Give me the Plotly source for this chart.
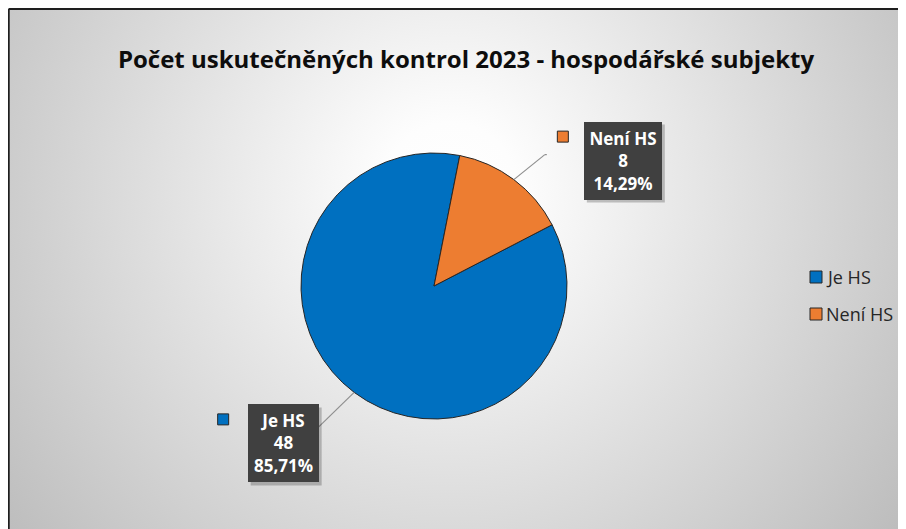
import math
import base64
import plotly.graph_objects as go

# ---------------- data ----------------
labels = ["Je HS", "Není HS"]
values = [48, 8]
colors = ["#0070C0", "#ED7D31"]
title_text = "Počet uskutečněných kontrol 2023 - hospodářské subjekty"

# ---------------- layout constants (screen pixels) ----------------
OFF = 8                      # page body margin of the browser
W, H = 906 - OFF, 529 - OFF  # figure size
CX, CY, R = 434, 286, 133
ROT = 62.6
FONT = "Open Sans"

def px(x):
    return (x - OFF) / W

def py(y):
    return 1 - (y - OFF) / H

fig = go.Figure(
    go.Pie(
        labels=labels,
        values=values,
        sort=False,
        direction="clockwise",
        rotation=ROT,
        marker=dict(colors=colors, line=dict(color="#262626", width=1)),
        textinfo="none",
        hoverinfo="label+value+percent",
        domain=dict(x=[px(CX - R), px(CX + R)], y=[py(CY + R), py(CY - R)]),
        showlegend=False,
    )
)

# background radial gradient (whole figure)
svg = f'''<svg xmlns="http://www.w3.org/2000/svg" width="{W}" height="{H}" viewBox="0 0 {W} {H}">
<defs><radialGradient id="g" gradientUnits="userSpaceOnUse" cx="{450-OFF}" cy="{190-OFF}" r="560">
<stop offset="0" stop-color="#ffffff"/><stop offset="0.12" stop-color="#fdfdfd"/>
<stop offset="1" stop-color="#bdbdbd"/></radialGradient></defs>
<rect x="0" y="0" width="{W}" height="{H}" fill="url(#g)"/></svg>'''
uri = "data:image/svg+xml;base64," + base64.b64encode(svg.encode()).decode()

shapes = []
annotations = []

# chart border (left & top visible)
shapes.append(dict(type="line", xref="paper", yref="paper", x0=0.0008, y0=0.998, x1=1, y1=0.998,
                   line=dict(color="#1e1e1e", width=2)))
shapes.append(dict(type="line", xref="paper", yref="paper", x0=0.0008, y0=0.998, x1=0.0008, y1=0,
                   line=dict(color="#1e1e1e", width=2)))

# data labels with leader lines
total = sum(values)
box_off = {"Je HS": (-71, 51), "Není HS": (109, -19)}
box_w = {"Je HS": 63, "Není HS": 70}
BOX_H = 70
PAD, BWID = 3, 1
lead_off = {"Je HS": [(-37, 36)], "Není HS": [(31, -25), (33, -25)]}
start = ROT
for lab, val, col in zip(labels, values, colors):
    span = val / total * 360
    mid = math.radians(start + span / 2)
    start += span
    ex = CX + R * math.sin(mid)
    ey = CY - R * math.cos(mid)
    pts = [(ex, ey)] + [(ex + dx, ey + dy) for dx, dy in lead_off[lab]]
    for (x0, y0), (x1, y1) in zip(pts[:-1], pts[1:]):
        shapes.append(dict(type="line", xref="paper", yref="paper", x0=px(x0), y0=py(y0),
                           x1=px(x1), y1=py(y1), line=dict(color="#8f8f8f", width=1.2)))
    bx = ex + box_off[lab][0]
    by = ey + box_off[lab][1]
    # box shadow
    hw = box_w[lab] / 2 + PAD + BWID
    hh = BOX_H / 2 + PAD + BWID
    shapes.append(dict(type="rect", xref="paper", yref="paper", layer="above",
                       x0=px(bx - hw + 3), x1=px(bx + hw + 3), y0=py(by + hh + 3), y1=py(by - hh + 3),
                       fillcolor="rgba(0,0,0,0.22)", line=dict(width=0)))
    pct = f"{val / total * 100:.2f}".replace(".", ",") + "%"
    txt = f"<b>{lab}<br>{val}<br>{pct}</b>"
    annotations.append(dict(xref="paper", yref="paper", xanchor="center", yanchor="middle",
                            showarrow=False, width=box_w[lab], height=BOX_H, borderpad=PAD,
                            borderwidth=BWID, align="center", text=txt, x=px(bx), y=py(by),
                            font=dict(family=FONT, size=17, color="#ffffff"),
                            bgcolor="#404040", bordercolor="#404040"))
    sx, sy = bx - 60, by - 24
    shapes.append(dict(type="rect", xref="paper", yref="paper", x0=px(sx - 5.5), x1=px(sx + 5.5),
                       y0=py(sy + 5.5), y1=py(sy - 5.5), fillcolor=col, line=dict(color="#262626", width=1)))

# manual legend
LX, LY, LGAP = 816, 277, 37
for i, (lab, col) in enumerate(zip(labels, colors)):
    yy = LY + i * LGAP
    shapes.append(dict(type="rect", xref="paper", yref="paper", x0=px(LX - 6), x1=px(LX + 6),
                       y0=py(yy + 6), y1=py(yy - 6), fillcolor=col, line=dict(color="#262626", width=1)))
    annotations.append(dict(xref="paper", yref="paper", x=px(LX + 8), y=py(yy), xanchor="left",
                            yanchor="middle", text=lab, showarrow=False,
                            font=dict(family=FONT, size=18, color="#262626")))

fig.update_layout(
    width=W, height=H,
    margin=dict(l=0, r=0, t=0, b=0),
    paper_bgcolor="#ffffff",
    plot_bgcolor="rgba(0,0,0,0)",
    title=dict(text=f"<b>{title_text}</b>", x=px(466), xanchor="center", y=py(60), yanchor="middle",
               yref="container", font=dict(family=FONT, size=24, color="#0d0d0d")),
    images=[dict(source=uri, xref="paper", yref="paper", x=0, y=1, sizex=1, sizey=1,
                 xanchor="left", yanchor="top", sizing="stretch", layer="below")],
    shapes=shapes,
    annotations=annotations,
    showlegend=False,
)

fig.write_html("out.html")
